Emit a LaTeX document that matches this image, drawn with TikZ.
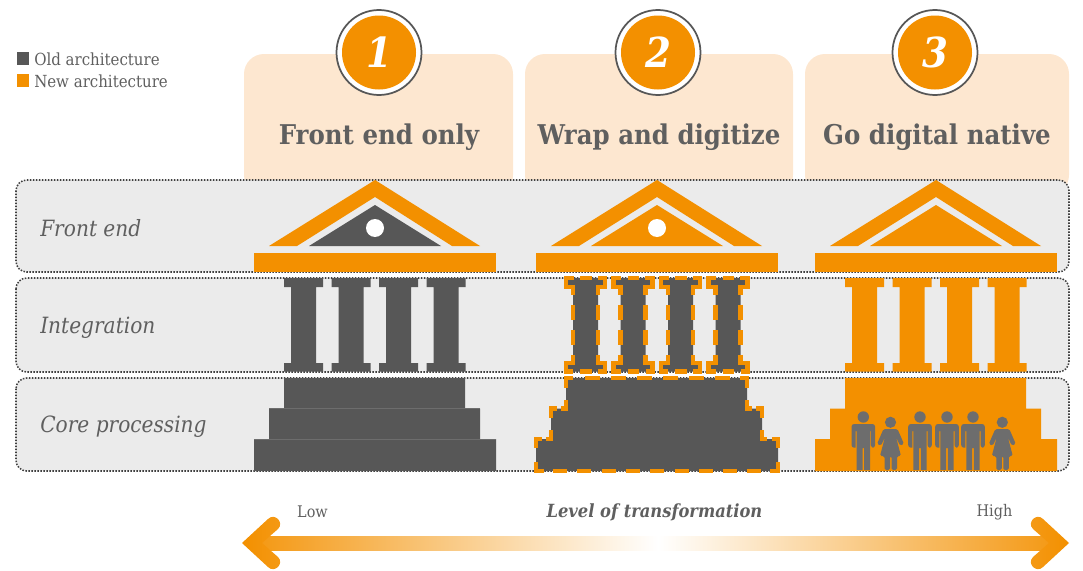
\documentclass[tikz,border=0pt]{standalone}
\usepackage{fontspec}
\setmainfont{DejaVu Serif Condensed}
\definecolor{dark}{HTML}{575757}
\definecolor{dotc}{HTML}{404040}
\definecolor{org}{HTML}{F39000}
\definecolor{peach}{HTML}{FDE7D0}
\definecolor{bandgray}{HTML}{EBEBEB}
\definecolor{txt}{HTML}{5F5F5F}
\definecolor{person}{HTML}{6D6D6D}
\tikzset{
  x=0.75pt,y=-0.75pt,
  cardbox/.style={fill=peach,rounded corners=15pt},
  bandbox/.style={fill=bandgray,draw=dotc,line width=1.15pt,dash pattern=on 1.15pt off 1.1pt,rounded corners=8pt},
  dashseg/.style={draw=org,line width=3.2pt,miter limit=10},
  heading/.style={font=\bfseries\fontsize{20.4}{24}\selectfont,text=txt,inner sep=0pt},
  rowlabel/.style={font=\itshape\fontsize{16.8}{22}\selectfont,text=txt,inner sep=0pt,anchor=west},
  legendtext/.style={font=\fontsize{12.5}{14}\selectfont,text=txt,inner sep=0pt,anchor=west},
  scaletext/.style={font=\fontsize{12}{14}\selectfont,text=txt,inner sep=0pt},
  numeral/.style={font=\bfseries\itshape\fontsize{31}{36}\selectfont,text=white,inner sep=0pt},
  col/.pic={\path[pic actions] (0,278)--(39,278)--(39,287)--(32,287)--(32,363)--(39,363)--(39,371.5)--(0,371.5)--(0,363)--(7,363)--(7,287)--(0,287)--cycle;},
  coldash/.pic={\draw[dashseg] (7.5,278)--(0,278)--(0,287)--(7,287)--(7,295)
      (14,278)--(25.7,278)
      (32,295)--(32,287)--(39,287)--(39,278)--(31.5,278)
      (7,305)--(7,320) (7,330)--(7,345)
      (32,305)--(32,320) (32,330)--(32,345)
      (7,355)--(7,363)--(0,363)--(0,371.5)--(7,371.5)
      (14,371.5)--(25.7,371.5)
      (32,355)--(32,363)--(39,363)--(39,371.5)--(32,371.5);},
  stepsoutline/.pic={\path[pic actions] (284,378)--(465,378)--(465,408.5)--(480,408.5)--(480,439)--(496,439)--(496,471)--(254,471)--(254,439)--(269,439)--(269,408.5)--(284,408.5)--cycle;},
  stepsdash/.pic={\draw[dashseg] (291,378)--(284,378)--(284,388)
      (458,378)--(465,378)--(465,388)
      (465,400)--(465,408.5)--(470,408.5)
      (474,408.5)--(480,408.5)--(480,417.5)
      (480,430)--(480,439)--(485,439)
      (490,439)--(496,439)--(496,448)
      (496,462)--(496,471)--(488,471)
      (262,471)--(254,471)--(254,462)
      (254,448)--(254,439)--(260,439)
      (264,439)--(269,439)--(269,430)
      (269,417.5)--(269,408.5)--(275,408.5)
      (279,408.5)--(284,408.5)--(284,400);
    \foreach \a in {303,329,355,381,407,432.6}{\draw[dashseg] (\a,378)--(\a+15,378);}
    \foreach \a in {271,295.3,319.6,343.9,368.2,392.5,416.8,441.1,465.4}{\draw[dashseg] (\a,471)--(\a+14,471);}},
  chevron/.pic={\fill[org] (375,180)--(480,246)--(452,246)--(375,197)--(297,246)--(269,246)--cycle;
     \fill[org] (254,253) rectangle (496,272);},
  man/.pic={\fill[person] (0,-53) circle[radius=5.7*0.75pt];
     \fill[person,rounded corners=2pt] (-11.8,-35)--(-11.8,-46)--(11.8,-46)--(11.8,-22.3)--(7.6,-22.3)[sharp corners]--(7.6,-39)--(6.7,-39)--(6.7,0)--(0.8,0)--(0.8,-22)--(-0.8,-22)--(-0.8,0)--(-6.7,0)--(-6.7,-39)--(-7.6,-39)--(-7.6,-22.3)[rounded corners=2pt]--(-11.8,-22.3)--cycle;},
  woman/.pic={\fill[person] (0,-47.7) circle[radius=5.6*0.75pt];
     \fill[person,rounded corners=1.2pt] (-7,-41)--(7,-41)--(13.5,-26)--(9.5,-24.3)--(5.5,-33)--(10.5,-14)--(6.5,-14)--(6.5,0)--(1,0)--(1,-14)--(-0.5,-14)--(-0.5,0)--(-6,0)--(-6,-14)--(-10.5,-14)--(-5.5,-33)--(-9.5,-24.3)--(-13.5,-26)--cycle;},
}
\begin{document}
\begin{tikzpicture}
\useasboundingbox (0,0) rectangle (1083,571);
% legend
\fill[dark] (17,52) rectangle (29,65);
\fill[org] (17,74) rectangle (29,87);
\node[legendtext] (lold) at (34,59) {Old architecture};
\node[legendtext] (lnew) at (34,81) {New architecture};
% cards
\fill[cardbox] (244,54) rectangle (513,195);
\fill[cardbox] (525,54) rectangle (793,195);
\fill[cardbox] (805,54) rectangle (1069,195);
\node[heading] (h1) at (379,137) {Front end only};
\node[heading] (h2) at (659,137) {Wrap and digitize};
\node[heading] (h3) at (937,137) {Go digital native};
% numbered circles
\foreach \cx/\n in {379/1,658/2,935/3}{
  \fill[white,draw=dark,line width=1.3pt] (\cx,52.5) circle[radius=42.5*0.75pt];
  \fill[org] (\cx,52.5) circle[radius=37*0.75pt];
  \node[numeral] (num\n) at (\cx,52.5) {\n};
}
% bands
\path[bandbox] (16,180) rectangle (1069,272);
\path[bandbox] (16,278) rectangle (1069,372);
\path[bandbox] (16,378) rectangle (1069,471);
\node[rowlabel] (r1) at (40,228) {Front end};
\node[rowlabel] (r2) at (40,328) {Integration};
\node[rowlabel] (r3) at (40,427) {Core processing};
% temple 1
\pic at (0,0) {chevron};
\fill[dark] (375,205)--(441,246)--(309,246)--cycle;
\fill[white] (375,228) circle[radius=9*0.75pt];
\foreach \x in {284,331.5,379,426.5}{\pic[fill=dark] at (\x,0) {col};}
\pic[fill=dark] at (0,0) {stepsoutline};
\draw[person,line width=.4pt] (269,408.5)--(480,408.5) (254,439)--(496,439);
% temple 2
\begin{scope}[shift={(282,0)}]
\pic at (0,0) {chevron};
\fill[org] (375,205)--(441,246)--(309,246)--cycle;
\fill[white] (375,228) circle[radius=9*0.75pt];
\foreach \x in {284,331.5,379,426.5}{\pic[fill=dark] at (\x,0) {col};\pic at (\x,0) {coldash};}
\pic[fill=dark] at (0,0) {stepsoutline};
\pic at (0,0) {stepsdash};
\end{scope}
% temple 3
\begin{scope}[shift={(561,0)}]
\pic at (0,0) {chevron};
\fill[org] (375,205)--(441,246)--(309,246)--cycle;
\foreach \x in {284,331.5,379,426.5}{\pic[fill=org] at (\x,0) {col};}
\pic[fill=org] at (0,0) {stepsoutline};
\end{scope}
% people
\foreach \x in {863.3,920,947,973}{\pic at (\x,470) {man};}
\foreach \x in {890.5,1002.3}{\pic at (\x,470) {woman};}
% scale arrow
\node[scaletext] (low) at (312.5,512) {Low};
\node[scaletext] (high) at (994.5,512) {High};
\node[font=\bfseries\itshape\fontsize{13.6}{14}\selectfont,text=txt,inner sep=0pt] (lvl) at (654.5,512) {Level of transformation};
\shade[left color=org!91!white,right color=white] (262,536.5) rectangle (658,550);
\shade[left color=white,right color=org!91!white] (658,536.5) rectangle (1050,550);
\shade[left color=org!91!white,right color=org] (1069,543)--(1043,519) .. controls (1036.4,512.4) and (1026.4,522.4) .. (1033,529)--(1049,543)--(1033,557) .. controls (1026.4,563.6) and (1036.4,573.6) .. (1043,567)--cycle;
\shade[right color=org!91!white,left color=org] (242,543)--(268,519) .. controls (274.6,512.4) and (284.6,522.4) .. (278,529)--(262,543)--(278,557) .. controls (284.6,563.6) and (274.6,573.6) .. (268,567)--cycle;
\end{tikzpicture}
\end{document}
